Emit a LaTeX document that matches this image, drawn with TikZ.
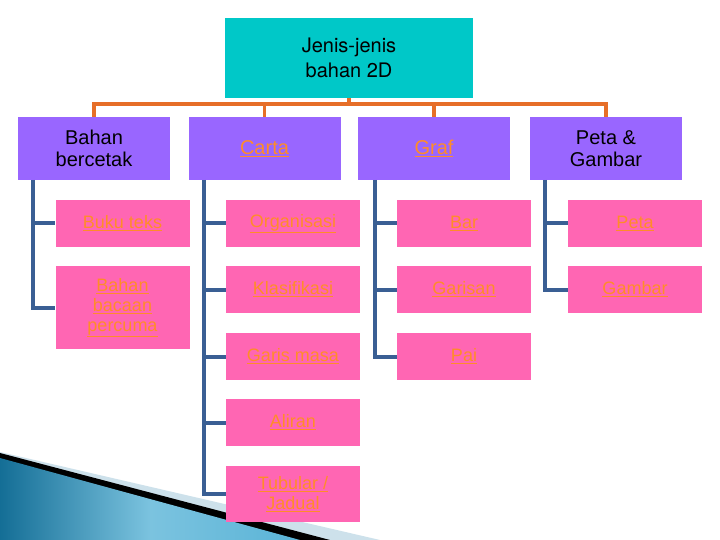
\documentclass[tikz,border=0pt]{standalone}
\usepackage{fontspec}
\setmainfont{Liberation Sans}
\newfontfamily\hand{TeX Gyre Heros}
\newcommand\uline[1]{\underline{#1}}
\begin{document}
\begin{tikzpicture}[x=1pt,y=-1pt,
  lvl/.style={draw=none, fill=purp, minimum height=63pt, minimum width=152pt, align=center, font=\fontsize{20}{22}\selectfont},
  leaf/.style={fill=pinkb, minimum width=134pt, align=center, text=orangeT, font=\fontsize{18}{20}\selectfont},
  bus/.style={draw=orangeL, line width=3.5pt},
  tie/.style={draw=blueL, line width=4pt}]
\definecolor{teal}{RGB}{0,200,200}
\definecolor{purp}{RGB}{153,102,255}
\definecolor{pinkb}{RGB}{255,102,179}
\definecolor{orangeT}{RGB}{255,140,40}
\definecolor{orangeL}{RGB}{230,110,40}
\definecolor{blueL}{RGB}{58,95,148}
\definecolor{deco1}{RGB}{20,110,150}
\definecolor{deco2}{RGB}{90,180,215}
\definecolor{deco3}{RGB}{205,225,235}
\useasboundingbox (0,0) rectangle (720,540);
\fill[white] (0,0) rectangle (720,540);
% decoration
\fill[deco3] (0,452) -- (380,540) -- (0,540) -- cycle;
\fill[black] (0,453) -- (330,540) -- (0,540) -- cycle;
\shade[left color=deco1, right color=deco2, middle color=deco2!80] (0,458) -- (300,540) -- (0,540) -- cycle;
% top
\node[fill=teal, minimum width=248pt, minimum height=80pt, align=center, font=\hand\fontsize{20}{25}\selectfont] (top) at (349,58) {Jenis-jenis\\bahan 2D};
% level 1
\node[lvl] (b1) at (94,148.5) {Bahan\\bercetak};
\node[lvl, text=orangeT] (b2) at (264.5,148.5) {\uline{Carta}};
\node[lvl, text=orangeT] (b3) at (434,148.5) {\uline{Graf}};
\node[lvl] (b4) at (606,148.5) {Peta \&\\Gambar};
% bus
\coordinate (j) at (349,104);
\draw[bus] (top.south) -- (j);
\draw[bus] (b1.north) |- (j) -| (b4.north);
\draw[bus] (b2.north) -- ++(0,-13);
\draw[bus] (b3.north) -- ++(0,-13);
% leaves
\node[leaf, minimum height=47pt] (l11) at (122.5,223.5) {\uline{Buku teks}};
\node[leaf, minimum height=83pt] (l12) at (122.5,307.5) {\uline{Bahan}\\\uline{bacaan}\\\uline{percuma}};
\node[leaf, minimum height=47pt] (l21) at (293,223.5) {\uline{Organisasi}};
\node[leaf, minimum height=47pt] (l22) at (293,289.5) {\uline{Klasifikasi}};
\node[leaf, minimum height=47pt] (l23) at (293,356.5) {\uline{Garis masa}};
\node[leaf, minimum height=47pt] (l24) at (293,422.5) {\uline{Aliran}};
\node[leaf, minimum height=56pt] (l25) at (293,494) {\uline{Tubular /}\\\uline{Jadual}};
\node[leaf, minimum height=47pt] (l31) at (464,223.5) {\uline{Bar}};
\node[leaf, minimum height=47pt] (l32) at (464,289.5) {\uline{Garisan}};
\node[leaf, minimum height=47pt] (l33) at (464,356.5) {\uline{Pai}};
\node[leaf, minimum height=47pt] (l41) at (635,223.5) {\uline{Peta}};
\node[leaf, minimum height=47pt] (l42) at (635,289.5) {\uline{Gambar}};
% ties
\draw[tie] (33,180) |- (l11.west);
\draw[tie] (33,200) |- (l12.west);
\draw[tie] (204,180) |- (l21.west);
\draw[tie] (204,200) |- (l22.west);
\draw[tie] (204,200) |- (l23.west);
\draw[tie] (204,200) |- (l24.west);
\draw[tie] (204,200) |- (l25.west);
\draw[tie] (375,180) |- (l31.west);
\draw[tie] (375,200) |- (l32.west);
\draw[tie] (375,200) |- (l33.west);
\draw[tie] (545,180) |- (l41.west);
\draw[tie] (545,200) |- (l42.west);
\end{tikzpicture}
\end{document}
